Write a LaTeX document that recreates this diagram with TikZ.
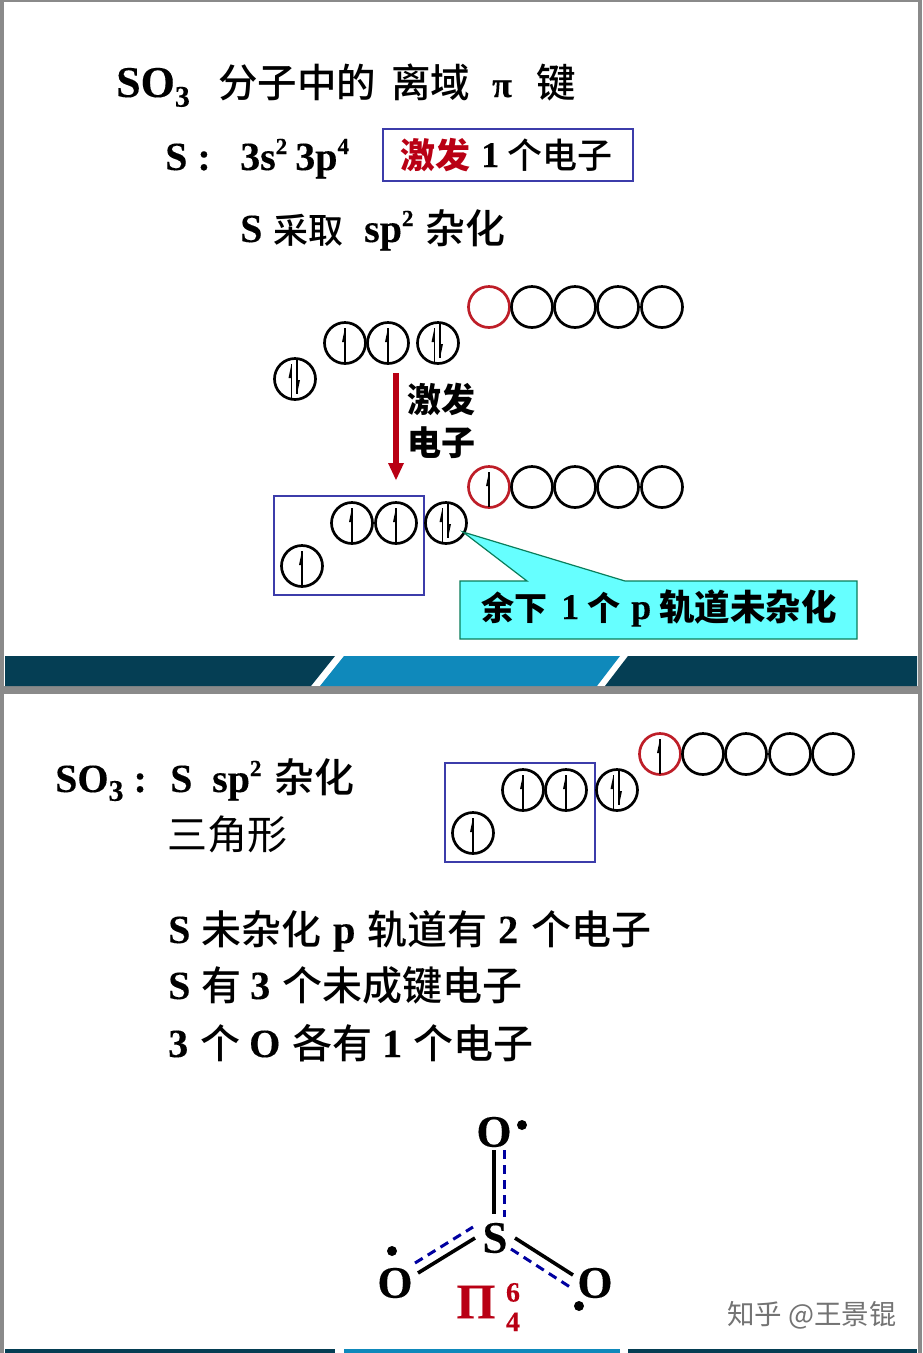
\documentclass[tikz,border=0pt]{standalone}
\usepackage{fontspec}
\setmainfont{Liberation Serif}[BoldFeatures={FakeBold=0.25}]
\newfontfamily\cjkm{Noto Sans CJK SC Medium}
\newfontfamily\cjkh{Noto Sans CJK SC}
\newcommand{\cjk}{\cjkm\mdseries}
\newcommand{\cjkb}{\cjkh\bfseries}
\newcommand{\cjkp}{\cjkh\mdseries}
\newcommand{\sz}[1]{\fontsize{#1}{#1}\selectfont}
\newcommand{\supr}[1]{\raisebox{0.4em}{\sz{23}#1}}
\newcommand{\subr}[1]{\raisebox{-0.22em}{\sz{30}#1}}
\definecolor{slidegray}{RGB}{138,138,138}
\definecolor{bardark}{RGB}{5,62,84}
\definecolor{barblue}{RGB}{15,137,187}
\definecolor{boxblue}{RGB}{60,60,170}
\definecolor{orbred}{RGB}{190,30,40}
\definecolor{arrowred}{RGB}{185,0,20}
\definecolor{calloutfill}{RGB}{102,255,255}
\definecolor{calloutline}{RGB}{10,125,90}
\definecolor{dashblue}{RGB}{0,0,160}
\tikzset{
  orb/.style={circle,draw=black,line width=2.7pt,minimum size=41pt,inner sep=0pt},
  redorb/.style={orb,draw=orbred},
  txt/.style={anchor=west,inner sep=0pt,text height=28pt,text depth=2pt,font=\bfseries\sz{40},text=black},
  ctxt/.style={anchor=west,inner sep=0pt,text height=31pt,text depth=2pt,font=\sz{40},text=black},
  atom/.style={inner sep=0pt,font=\bfseries\sz{45}},
  hybbox/.style={draw=boxblue,line width=2.8pt},
  bond/.style={line width=3.6pt,black},
  pibond/.style={line width=3pt,dashblue,dash pattern=on 9pt off 6pt},
  dotmark/.style={circle,fill=black,inner sep=0pt,minimum size=10pt},
  spinup/.pic={
    \draw[line width=1.5pt] (0,20) -- (0,-15);
    \fill (0,-15) -- (-3,-1) -- (0,-1) -- cycle;},
  spindown/.pic={
    \draw[line width=1.5pt] (0,-20) -- (0,15);
    \fill (0,15) -- (3,1) -- (0,1) -- cycle;},
  spinpair/.pic={
    \pic at (-3.5,0) {spinup};
    \pic at (2,0) {spindown};}
}
\begin{document}
\begin{tikzpicture}[x=1pt,y=-1pt]
\useasboundingbox (0,0) rectangle (922,1353);
\fill[slidegray] (0,0) rectangle (922,1353);
\fill[white] (4,2) rectangle (918,686);
\fill[white] (4,694) rectangle (918,1353);
% footer bars
\fill[bardark] (5,656) -- (335,656) -- (311,686) -- (5,686) -- cycle;
\fill[barblue] (344,656) -- (620,656) -- (597,686) -- (320,686) -- cycle;
\fill[bardark] (628,656) -- (917,656) -- (917,686) -- (605,686) -- cycle;
\fill[bardark] (5,1349) rectangle (335,1353);
\fill[barblue] (344,1349) rectangle (620,1353);
\fill[bardark] (628,1349) rectangle (917,1353);

% slide 1 text
\node[txt] (t1a) at (116,84) {\sz{44}SO\subr{3}};
\node[ctxt] (t1b) at (218,83) {\cjk\sz{39.5}分子中的};
\node[ctxt] (t1c) at (391,83) {\cjk\sz{39.5}离域};
\node[txt] (t1d) at (492,84) {\sz{36}π};
\node[ctxt] (t1e) at (536,83) {\cjk\sz{39.5}键};
\node[txt] (t2a) at (165,157) {S :};
\node[txt] (t2b) at (240,157) {3s\supr{2}\hspace{8pt}3p\supr{4}};
\node[draw=boxblue,line width=1.8pt,minimum width=250pt,minimum height=52pt,inner sep=0pt,anchor=north west] (exc) at (382,128) {};
\node[ctxt] (t2c) at (400,154) {\cjkb\sz{35}\color{arrowred}激发};
\node[txt] (t2d) at (481,154) {\sz{36}1};
\node[ctxt] (t2e) at (507,154) {\cjk\sz{35}个电子};
\node[txt] (t3a) at (240,229) {S};
\node[ctxt] (t3b) at (273,229) {\cjk\sz{35}采取};
\node[txt] (t3c) at (364,229) {sp\supr{2}};
\node[ctxt] (t3d) at (425,229) {\cjk\sz{40}杂化};

% slide 1 orbitals
\node[redorb] (d1) at (489,307) {};
\node[orb] (d2) at (532,307) {};
\node[orb] (d3) at (575,307) {};
\node[orb] (d4) at (618,307) {};
\node[orb] (d5) at (662,307) {};
\node[orb] (p1) at (345,343) {}; \pic at (p1) {spinup};
\node[orb] (p2) at (388,343) {}; \pic at (p2) {spinup};
\node[orb] (p3) at (438,343) {}; \pic at (p3) {spinpair};
\node[orb] (s1) at (295,379) {}; \pic at (s1) {spinpair};

\coordinate (arrA) at (396,373);
\coordinate (arrB) at (396,463);
\coordinate (arrC) at (396,480);
\draw[arrowred,line width=5.5pt] (arrA) -- (arrB);
\fill[arrowred] (388,463) -- (404,463) -- (arrC) -- cycle;
\node[ctxt] (lab1) at (407,398) {\cjkb\sz{34}激发};
\node[ctxt] (lab2) at (407,441) {\cjkb\sz{34}电子};

\node[redorb] (e1) at (489,487) {}; \pic at (e1) {spinup};
\node[orb] (e2) at (532,487) {};
\node[orb] (e3) at (575,487) {};
\node[orb] (e4) at (618,487) {};
\node[orb] (e5) at (662,487) {};
\node[hybbox,minimum width=150pt,minimum height=99pt,inner sep=0pt,anchor=north west] (hyb1) at (272.5,494.5) {};
\node[orb] (q1) at (352,523) {}; \pic at (q1) {spinup};
\node[orb] (q2) at (396,523) {}; \pic at (q2) {spinup};
\node[orb] (q3) at (446,523) {}; \pic at (q3) {spinpair};
\node[orb] (r1) at (302,566) {}; \pic at (r1) {spinup};

% callout
\coordinate (tip) at (463,532);
\draw[calloutline,line width=1.2pt,fill=calloutfill,line join=miter]
  (460,581) -- (527,581) -- (tip) -- (625,581) -- (857,581) -- (857,639) -- (460,639) -- cycle;
\node[ctxt] (c1) at (481,606) {\cjkb\sz{33}余下};
\node[txt] (c2) at (561,606) {\sz{36}1};
\node[ctxt] (c3) at (587,606) {\cjkb\sz{33}个};
\node[txt] (c4) at (631,606) {\sz{36}p};
\node[ctxt] (c5) at (659,606) {\cjkb\sz{35.5}轨道未杂化};

% slide 2 text
\node[txt] (u1) at (55,779) {SO\subr{3} :};
\node[txt] (u2) at (170,779) {S};
\node[txt] (u3) at (212,779) {sp\supr{2}};
\node[ctxt] (u4) at (274,778) {\cjk\sz{40}杂化};
\node[ctxt] (u5) at (167,835) {\cjkp\sz{40}三角形};
\node[txt] (v1) at (168,930) {S};
\node[ctxt] (v2) at (201,930) {\cjk\sz{40}未杂化};
\node[txt] (v3) at (333,930) {p};
\node[ctxt] (v4) at (367,930) {\cjk\sz{40}轨道有};
\node[txt] (v5) at (498,930) {2};
\node[ctxt] (v6) at (531,930) {\cjk\sz{40}个电子};
\node[txt] (w1) at (168,986) {S};
\node[ctxt] (w2) at (201,986) {\cjk\sz{40}有};
\node[txt] (w3) at (250,986) {3};
\node[ctxt] (w4) at (282,986) {\cjk\sz{40}个未成键电子};
\node[txt] (x1) at (168,1044) {3};
\node[ctxt] (x2) at (200,1044) {\cjk\sz{40}个};
\node[txt] (x3) at (249,1044) {O};
\node[ctxt] (x4) at (292,1044) {\cjk\sz{40}各有};
\node[txt] (x5) at (382,1044) {1};
\node[ctxt] (x6) at (413,1044) {\cjk\sz{40}个电子};

% slide 2 orbitals
\node[redorb] (f1) at (660,754) {}; \pic at (f1) {spinup};
\node[orb] (f2) at (703,754) {};
\node[orb] (f3) at (746,754) {};
\node[orb] (f4) at (790,754) {};
\node[orb] (f5) at (833,754) {};
\node[hybbox,minimum width=150pt,minimum height=99pt,inner sep=0pt,anchor=north west] (hyb2) at (443.5,761.5) {};
\node[orb] (g1) at (523,790) {}; \pic at (g1) {spinup};
\node[orb] (g2) at (566,790) {}; \pic at (g2) {spinup};
\node[orb] (g3) at (617,790) {}; \pic at (g3) {spinpair};
\node[orb] (h1) at (473,833) {}; \pic at (h1) {spinup};

% molecule
\node[atom] (Ot) at (494,1132) {O};
\node[atom] (S) at (495,1238) {S};
\node[atom] (Ol) at (395,1283) {O};
\node[atom] (Or) at (595,1283) {O};
\node[dotmark] (dt) at (522,1125) {};
\node[dotmark] (dl) at (392,1251) {};
\node[dotmark] (dr) at (579,1306) {};
\draw[bond] ([shift={(0,18)}]Ot.center) -- ([shift={(-1,-24)}]S.center);
\draw[pibond] ([shift={(10,18)}]Ot.center) -- ([shift={(9,-21)}]S.center);
\draw[bond] ([shift={(23,-10)}]Ol.center) -- ([shift={(-20,0)}]S.center);
\draw[pibond] ([shift={(20,-20)}]Ol.center) -- ([shift={(-22,-11)}]S.center);
\draw[bond] ([shift={(20,0)}]S.center) -- ([shift={(-22,-8)}]Or.center);
\draw[pibond] ([shift={(16,11)}]S.center) -- ([shift={(-25,4)}]Or.center);
\node[inner sep=0pt,font=\bfseries\sz{50},text=arrowred] (pi) at (476,1302) {П};
\node[inner sep=0pt,align=center,font=\bfseries\fontsize{28}{29.5}\selectfont,text=arrowred] (idx) at (513,1307) {6\\4};

% watermark
\node[inner sep=0pt,text=black!55,font=\sz{27.5}] (wm) at (812,1315) {\cjkp 知乎 @王景锟};
\end{tikzpicture}
\end{document}
